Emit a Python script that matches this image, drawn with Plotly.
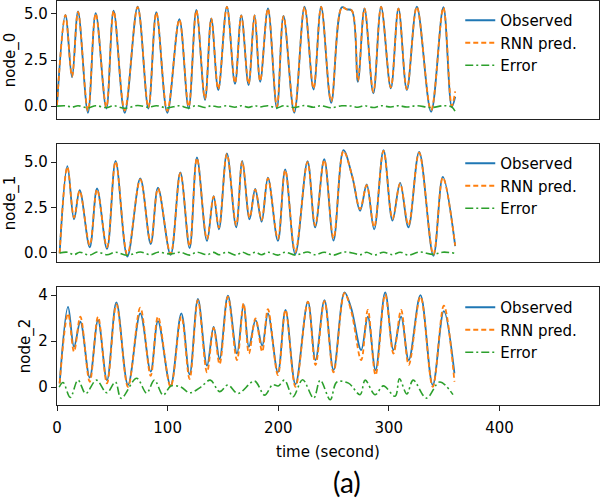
import plotly.graph_objects as go

# ---------------- data ----------------
t0 = [0, 7.6, 13.6, 19, 28, 35, 44.6, 51.2, 61.2, 72.9, 82.6, 89.8, 99.7, 110.6, 119, 126,
      133.8, 139.5, 145.8, 153.6, 160.9, 166.6, 173.2, 178.6, 183.7, 190.7, 198.8, 204.8,
      214.5, 223.8, 231.9, 238.8, 247.9, 257.5, 262, 266.6, 272, 278, 286, 293, 301.8,
      308.7, 316.3, 325.3, 338.2, 349.3, 356.9, 360]
obs0 = [0.05, 4.95, 1.56, 5.13, -0.36, 5.04, -0.13, 5.18, -0.36, 5.4, -0.13, 5.09, -0.36,
        4.71, -0.13, 5.22, 0.33, 4.76, 0.87, 5.4, 1.2, 4.93, 1.14, 4.93, 1.32, 5.3, -0.13,
        4.89, -0.36, 5.4, 0.9, 5.4, 0.18, 5.36, 5.25, 5.18, 1.32, 5.3, 0.69, 5.4, 0.96, 5.3,
        0.87, 5.4, -0.31, 5.36, -0.04, 0.5]
pred0 = [0.05, 4.93, 1.61, 5.11, -0.26, 5.02, -0.05, 5.16, -0.24, 5.37, -0.07, 5.07, -0.26,
         4.69, -0.03, 5.19, 0.41, 4.74, 0.92, 5.38, 1.26, 4.91, 1.21, 4.91, 1.36, 5.28, -0.03,
         4.87, -0.28, 5.37, 0.96, 5.38, 0.27, 5.34, 5.24, 5.18, 1.38, 5.28, 0.77, 5.38, 1.01,
         5.28, 0.92, 5.38, -0.23, 5.34, 0.01, 0.8]
err0 = [0.0, 0.02, -0.05, 0.02, -0.1, 0.02, -0.08, 0.02, -0.12, 0.03, -0.06, 0.02, -0.1, 0.02,
        -0.1, 0.03, -0.08, 0.02, -0.05, 0.02, -0.06, 0.02, -0.07, 0.02, -0.04, 0.02, -0.1, 0.02,
        -0.08, 0.03, -0.06, 0.02, -0.09, 0.02, 0.01, 0.0, -0.06, 0.02, -0.08, 0.02, -0.05, 0.02,
        -0.05, 0.02, -0.08, 0.02, -0.05, -0.3]

t1 = [2.4, 9.4, 15.4, 20.5, 29.6, 36.2, 45.2, 53, 63.6, 75.3, 84.7, 91.3, 102.7, 111.5, 119.9,
      126.5, 135.6, 141.6, 146.4, 153.6, 162, 167.5, 174.1, 179.2, 185, 190.7, 199.7, 206.3,
      215.4, 226.5, 233.4, 241.6, 250, 259, 267, 274, 280, 286.7, 295.2, 303.3, 310.2, 317.7,
      327.4, 340.3, 348.8, 360]
obs1 = [-0.02, 4.78, 1.85, 3.46, 0.31, 3.55, 0.22, 5.07, -0.2, 4.1, 0.49, 3.59, -0.11, 4.43,
        0.26, 5.26, 0.66, 3.13, 1.3, 5.48, 1.41, 5.07, 1.85, 3.52, 1.72, 4.14, 0.66, 4.6, -0.07,
        5.05, 1.41, 5.16, 0.68, 5.66, 4.2, 2.32, 3.77, 1.3, 5.66, 1.78, 3.86, 1.41, 5.57, -0.16,
        4.19, 0.38]
pred1 = [-0.02, 4.74, 1.95, 3.42, 0.43, 3.5, 0.32, 5.03, -0.07, 4.05, 0.59, 3.55, -0.05, 4.39,
         0.38, 5.22, 0.76, 3.1, 1.4, 5.44, 1.53, 5.03, 1.95, 3.48, 1.82, 4.1, 0.78, 4.56, 0.05,
         5.0, 1.51, 5.12, 0.8, 5.61, 4.2, 2.42, 3.73, 1.42, 5.62, 1.88, 3.82, 1.53, 5.52, -0.08,
         4.15, 0.4]
err1 = [0.0, 0.04, -0.1, 0.04, -0.12, 0.05, -0.1, 0.04, -0.13, 0.05, -0.1, 0.04, -0.06, 0.04,
        -0.12, 0.04, -0.1, 0.03, -0.1, 0.04, -0.12, 0.04, -0.1, 0.04, -0.1, 0.04, -0.12, 0.04,
        -0.12, 0.05, -0.1, 0.04, -0.12, 0.05, 0.0, -0.1, 0.04, -0.12, 0.04, -0.1, 0.04, -0.12,
        0.05, -0.08, 0.04, -0.02]

t2 = [2.4, 10, 15.4, 21.1, 29.6, 37.1, 45.2, 53.7, 64.2, 75.3, 84.7, 91.3, 102.7, 112.4, 119.9,
      127.4, 135.6, 141.6, 147, 154.5, 162.7, 168.7, 173.5, 179.5, 185.5, 190.7, 199.7, 206.6,
      215.6, 226.8, 233.7, 241.8, 250, 259.9, 266, 275, 281, 288, 296.7, 304.2, 311.1, 318,
      328.6, 339.7, 349.7, 359.3]
obs2 = [0.16, 3.49, 1.75, 2.84, 0.41, 2.91, 0.3, 3.68, 0.09, 3.2, 0.67, 2.87, 0.06, 3.2, 0.55,
        3.83, 0.93, 2.62, 1.22, 3.97, 1.46, 3.59, 1.75, 2.91, 1.8, 3.2, 0.64, 3.35, 0.12, 3.71,
        1.17, 3.78, 0.74, 4.12, 3.42, 1.61, 3.06, 0.74, 4.12, 1.61, 3.06, 1.17, 4.0, 0.09, 3.3,
        0.6]
pred2 = [0.16, 3.2, 1.54, 3.06, 0.23, 3.06, 0.16, 3.59, 0.01, 3.45, 0.49, 3.06, 0.01, 3.06,
         0.35, 3.78, 0.64, 2.57, 0.99, 3.93, 1.17, 3.64, 1.46, 2.99, 1.54, 3.39, 0.52, 3.35,
         0.01, 3.71, 0.96, 3.74, 0.64, 4.08, 3.3, 1.17, 3.35, 0.52, 4.03, 1.46, 3.35, 0.96, 3.93,
         0.01, 3.54, 0.23]
te2 = [2, 5.5, 12, 19, 26, 35.6, 45, 52.8, 58, 72, 81, 88, 96, 103, 112, 120, 130, 138.6, 147,
       154.5, 163.6, 178.6, 187.6, 195, 200, 205.7, 213.3, 222, 232, 238, 247, 253, 263.5, 274,
       278.6, 287.6, 295, 305.7, 309.6, 316.3, 322, 334, 346, 358]
err2 = [0.0, 0.2, -0.45, 0.3, -0.28, 0.3, -0.25, 0.22, -0.49, 0.38, -0.26, 0.3, -0.35, 0.05,
        0.0, -0.25, 0.0, 0.3, -0.2, 0.09, -0.28, 0.26, -0.35, 0.1, 0.05, 0.3, -0.42, 0.32, -0.48,
        0.3, -0.55, 0.22, 0.17, -0.33, 0.3, -0.33, 0.05, -0.4, 0.36, -0.3, 0.3, -0.48, 0.22,
        -0.33]

node_labels = ["node_0", "node_1", "node_2"]
series_names = ["Observed", "RNN pred.", "Error"]
x_ticks = [0, 100, 200, 300, 400]
y_ticks = [[0.0, 2.5, 5.0], [0.0, 2.5, 5.0], [0, 2, 4]]

# ---------------- figure ----------------
BLUE, ORANGE, GREEN = "#1f77b4", "#ff7f0e", "#2ca02c"
FONT = "DejaVu Sans"
fig = go.Figure()

panels = [
    (t0, obs0, pred0, t0, err0),
    (t1, obs1, pred1, t1, err1),
    (t2, obs2, pred2, te2, err2),
]
for i, (tt, ob, pr, te, er) in enumerate(panels):
    ax = "" if i == 0 else str(i + 1)
    lg = "legend" if i == 0 else "legend" + str(i + 1)
    common = dict(xaxis="x" + ax, yaxis="y" + ax, legend=lg, mode="lines",
                  line_shape="spline", hoverinfo="skip")
    fig.add_trace(go.Scatter(x=tt, y=ob, name=series_names[0],
                             line=dict(color=BLUE, width=1.8, smoothing=1.0), **common))
    fig.add_trace(go.Scatter(x=tt, y=pr, name=series_names[1],
                             line=dict(color=ORANGE, width=1.8, dash="5px,3px", smoothing=1.0),
                             **common))
    fig.add_trace(go.Scatter(x=te, y=er, name=series_names[2],
                             line=dict(color=GREEN, width=1.6, dash="8px,3px,2px,3px",
                                       smoothing=1.0), **common))

# plot area: left 57px, right 599px, top 1px, bottom 405px
H_AREA = 404.0
doms = [((405 - 119) / H_AREA, 1.0),
        ((405 - 262) / H_AREA, (405 - 144) / H_AREA),
        (0.0, (405 - 287) / H_AREA)]
yranges = [[-0.7, 5.7], [-0.5, 6.0], [-0.78, 4.35]]
leg_tops = [(405 - 4) / H_AREA, (405 - 147) / H_AREA, (405 - 291) / H_AREA]

axis_common = dict(showline=True, linecolor="#222", linewidth=1.2, mirror=True,
                   showgrid=False, zeroline=False, tickcolor="#222", automargin=False,
                   tickfont=dict(family=FONT, size=15, color="black"))
layout = dict(
    width=600, height=498,
    margin=dict(l=57, r=1, t=1, b=93, autoexpand=False),
    paper_bgcolor="white", plot_bgcolor="white",
    font=dict(family=FONT, size=15, color="black"),
    hovermode=False,
)
for i in range(3):
    ax = "" if i == 0 else str(i + 1)
    xa = dict(axis_common, domain=[0, 1], range=[0, 490], anchor="y" + ax)
    if i < 2:
        xa.update(showticklabels=False, ticks="")
    else:
        xa.update(tickvals=x_ticks, ticks="outside", ticklen=5, ticklabelstandoff=4,
                  title=dict(text="time (second)", font=dict(family=FONT, size=15),
                             standoff=10))
    ya = dict(axis_common, domain=list(doms[i]), range=yranges[i], anchor="x" + ax,
              tickvals=y_ticks[i], ticks="outside", ticklen=5,
              tickformat=".1f" if i < 2 else "d",
              title=dict(text=node_labels[i], font=dict(family=FONT, size=15), standoff=4))
    layout["xaxis" + ax] = xa
    layout["yaxis" + ax] = ya
    lg = "legend" if i == 0 else "legend" + str(i + 1)
    layout[lg] = dict(x=0.744, xanchor="left", y=leg_tops[i], yanchor="top",
                      bgcolor="rgba(255,255,255,0)", borderwidth=0,
                      font=dict(family=FONT, size=15, color="black"),
                      itemwidth=30, tracegroupgap=0)

fig.update_layout(**layout)
fig.add_annotation(text="(a)", xref="paper", yref="paper", x=0.535, y=-0.19,
                   xanchor="center", yanchor="middle", showarrow=False,
                   font=dict(family="Lato", size=28, color="black"))

fig.write_html("out.html", config={"displayModeBar": False, "staticPlot": True},
               post_script="document.body.style.margin='0';document.body.style.overflow='hidden';")
